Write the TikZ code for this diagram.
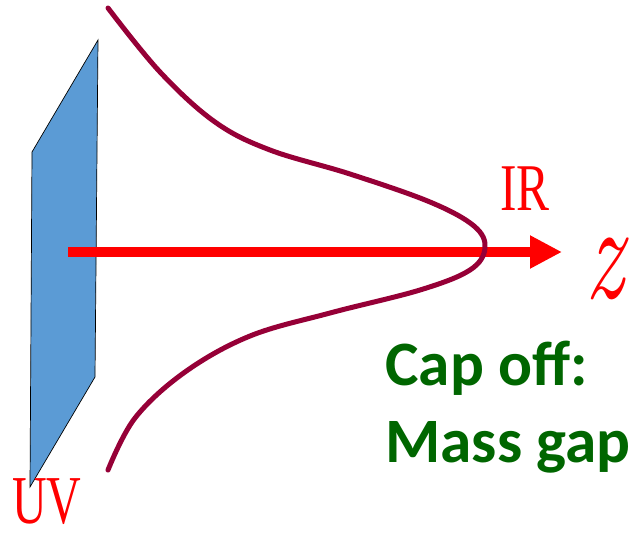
\documentclass[tikz,border=0pt]{standalone}
\usepackage{fontspec}
\newfontfamily\timesfont{Liberation Serif}
\newfontfamily\capfont{Carlito}
\usetikzlibrary{arrows.meta}
\definecolor{braneblue}{RGB}{91,155,213}
\definecolor{warpred}{RGB}{150,0,55}
\definecolor{gapgreen}{RGB}{0,102,0}
\tikzset{lbl/.style={text=red, inner sep=0pt, anchor=base},
  gaplbl/.style={text=gapgreen, inner sep=0pt, anchor=base west, font=\capfont\bfseries\fontsize{36}{42}\selectfont}}
\begin{document}
\begin{tikzpicture}[x=0.02cm, y=-0.02cm]
  \useasboundingbox (0,0) rectangle (632,534);
  % ------------------------------------------------------------ UV brane
  \draw[thin, fill=braneblue] (98,40) -- (32,152) -- (30,487) -- (95,377) -- cycle;
  % ------------------------------------------------------------ radial direction
  \coordinate (zstart) at (68,252); \coordinate (zend) at (562,252);
  \draw[red, line width=0.2cm, -{Triangle[length=0.64cm, width=0.62cm]}] (zstart) -- (zend);
  % ------------------------------------------------------------ warp factor
  \draw[warpred, line width=0.1cm, line cap=round] plot[smooth, tension=0.6] coordinates
    {(108,8) (160,72) (215,122) (270,150) (350,174) (430,202) (474,226) (485,248) (470,270) (420,290) (330,313) (250,336) (185,372) (135,418) (108,470)};
  % ------------------------------------------------------------ labels
  \node[lbl, font=\timesfont\fontsize{38}{44}\selectfont] (ir) at (525,210) {\scalebox{0.74}[1]{IR}};
  \node[lbl, font=\timesfont\fontsize{39}{44}\selectfont] (uv) at (47,523) {\scalebox{0.7}[1]{UV}};
  \node[lbl, anchor=center, font=\itshape\fontsize{68}{72}\selectfont] (z) at (605,269) {\scalebox{0.8}[1.15]{z}};
  \node[gaplbl] (cap) at (385,385) {Cap off:};
  \node[gaplbl] (gap) at (385,462) {Mass gap};
\end{tikzpicture}
\end{document}
